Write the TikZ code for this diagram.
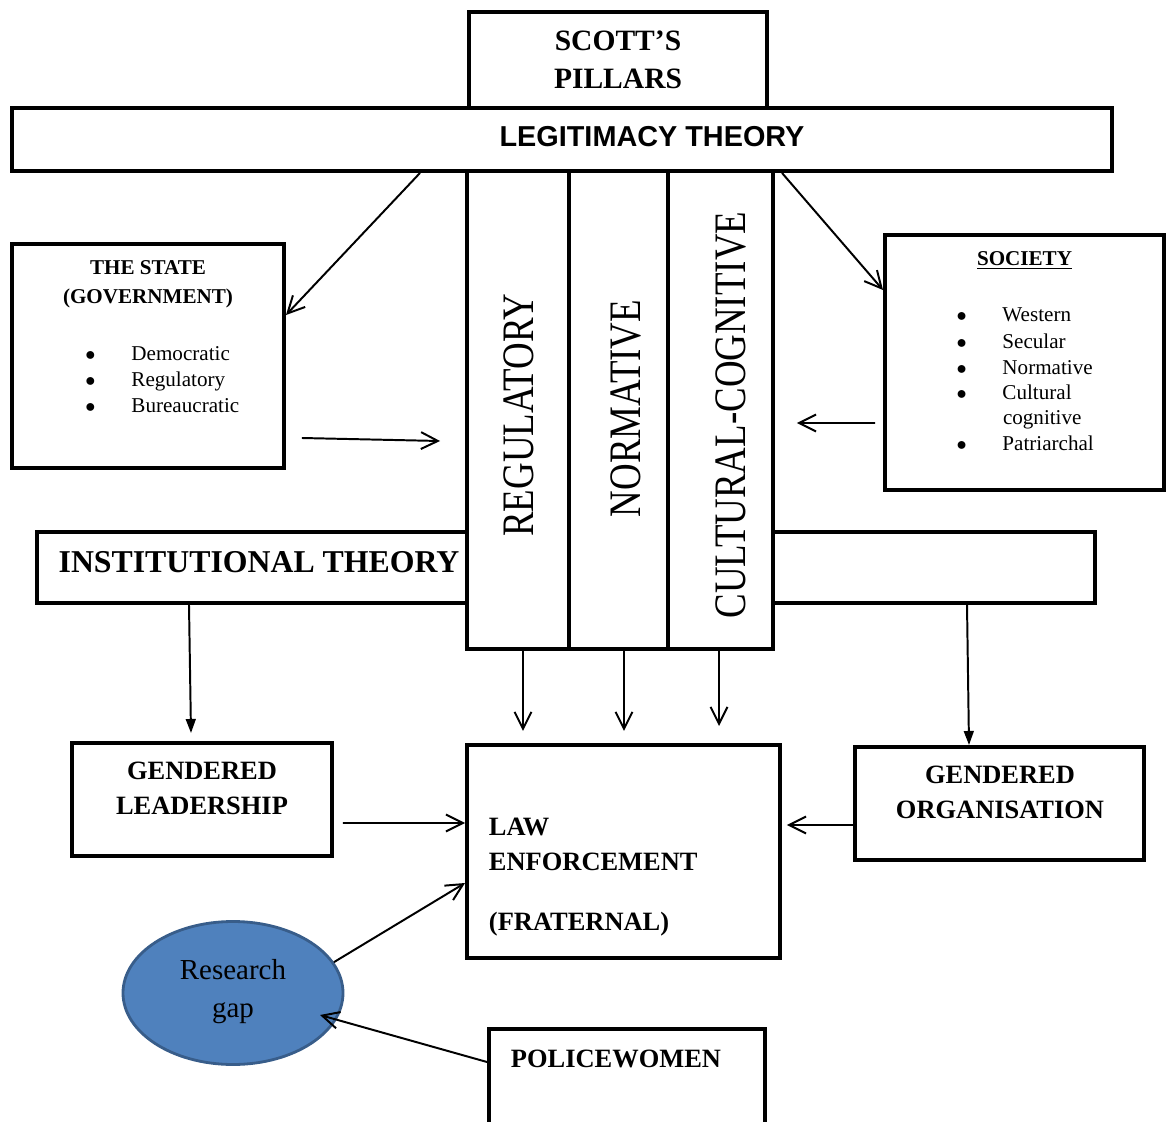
\documentclass[tikz,border=0pt]{standalone}
\usepackage{fontspec}
\setmainfont{Liberation Serif}
\newfontfamily\legitfont{Liberation Sans}
\usepackage{graphicx}
\usetikzlibrary{arrows.meta,shapes.geometric}

\definecolor{gapfill}{HTML}{4F81BD}
\definecolor{gapline}{HTML}{385D8A}

\newlength\pxu
\setlength\pxu{0.025cm}
\newcommand\blt{\hbox to 32.7pt{$\bullet$\hfil}}

\begin{document}
\begin{tikzpicture}[x=0.025cm, y=-0.025cm, line width=1.4pt,
    box/.style = {draw, line width=2.8pt, fill=white, inner sep=0},
    txt/.style = {inner sep=0, align=center, font=\bfseries\fontsize{18.8}{24.9}\selectfont},
    item/.style = {inner sep=0, anchor=base west, font=\fontsize{15}{18}\selectfont},
    pill/.style = {inner sep=0, rotate=90, anchor=base, font=\fontsize{32}{36}\selectfont},
    arr/.style = {-{Straight Barb[length=12pt,width=12pt]}},
    farr/.style = {-{Triangle[length=10pt,width=7pt]}}]
  \useasboundingbox (0,0) rectangle (1168,1122);
  \clip (0,0) rectangle (1168,1122);

  % top: pillars and legitimacy theory
  \node[box, minimum width=298\pxu, minimum height=108\pxu] (scott) at (618,66) {};
  \node[box, minimum width=1100\pxu, minimum height=63\pxu] (legit) at (562,139.5) {};
  \node[txt, font=\bfseries\fontsize{21}{27}\selectfont] (scotttxt) at (618,60) {SCOTT’S\\PILLARS};
  \node[txt, font=\legitfont\bfseries\fontsize{20.5}{24}\selectfont] (legittxt) at (652,137) {LEGITIMACY THEORY};

  % the state
  \node[box, minimum width=272\pxu, minimum height=224\pxu] (state) at (148,356) {};
  \node[txt, font=\bfseries\fontsize{15}{20.6}\selectfont] (statetxt) at (148,284) {THE STATE\\(GOVERNMENT)};
  \foreach \y/\t [count=\i] in {360/Democratic, 386/Regulatory, 412/Bureaucratic}
    \node[item] (st\i) at (84.5,\y) {\blt\t};

  % society
  \node[box, minimum width=279\pxu, minimum height=255\pxu] (society) at (1024.5,362.5) {};
  \node[txt, anchor=base, font=\bfseries\fontsize{15}{18}\selectfont] (soctxt) at (1024.5,266) {\underline{SOCIETY}};
  \foreach \y/\t [count=\i] in {322/Western, 348/Secular, 374/Normative, 399/Cultural, 450/Patriarchal}
    \node[item] (so\i) at (955.5,\y) {\blt\t};
  \node[item] (so6) at (1002,424) {cognitive};

  % institutional theory behind the three pillars
  \node[box, minimum width=1058\pxu, minimum height=71\pxu] (inst) at (566,567.5) {};
  \node[txt, font=\bfseries\fontsize{22.6}{26}\selectfont] (insttxt) at (259,562.5) {INSTITUTIONAL THEORY};
  \node[box, minimum width=102\pxu, minimum height=478\pxu] (reg) at (518,410) {};
  \node[box, minimum width=99\pxu, minimum height=478\pxu] (norm) at (618.5,410) {};
  \node[box, minimum width=105\pxu, minimum height=478\pxu] (cult) at (720.5,410) {};
  \node[pill] (regtxt) at (533,415) {\scalebox{0.82}[1]{REGULATORY}};
  \node[pill] (normtxt) at (640,408.5) {\scalebox{0.82}[1]{NORMATIVE}};
  \node[pill] (culttxt) at (745,415) {\scalebox{0.82}[1]{CULTURAL-COGNITIVE}};

  % bottom row
  \node[box, minimum width=260\pxu, minimum height=113\pxu] (gl) at (202,799.5) {};
  \node[txt] (gltxt) at (202,788.5) {GENDERED\\LEADERSHIP};
  \node[box, minimum width=313\pxu, minimum height=213\pxu] (law) at (623.5,851.5) {};
  \node[txt, align=left, anchor=west] (lawtxt) at (488,877) {LAW\\ENFORCEMENT\\[17.8pt](FRATERNAL)};
  \node[box, minimum width=289\pxu, minimum height=113\pxu] (go) at (999.5,803.5) {};
  \node[txt] (gotxt) at (1000,792.5) {GENDERED\\ORGANISATION};
  \node[ellipse, draw=gapline, fill=gapfill, line width=2pt, minimum width=220\pxu, minimum height=143\pxu, inner sep=0] (gap) at (233,993) {};
  \node[inner sep=0, align=center, font=\fontsize{20.6}{27}\selectfont] (gaptxt) at (233,991.5) {Research\\gap};
  \node[box, minimum width=276\pxu, minimum height=122\pxu] (police) at (627,1090) {};
  \node[txt, anchor=base west] (policetxt) at (510,1067) {POLICEWOMEN};

  % connectors
  \draw[arr] ([xshift=-142\pxu]legit.south) -- ([yshift=-73\pxu]state.north east);
  \draw[arr] ([xshift=220\pxu]legit.south) -- ([yshift=-57\pxu]society.north west);
  \draw[arr] ([xshift=16\pxu,yshift=-82\pxu]state.east) -- ([xshift=-25\pxu,yshift=-31\pxu]reg.west);
  \draw[arr] ([xshift=-8\pxu,yshift=-60.5\pxu]society.west) -- ([xshift=22\pxu,yshift=-13\pxu]cult.east);
  \draw[arr] ([xshift=5\pxu]reg.south) -- ++(0,80);
  \draw[arr] ([xshift=5.5\pxu]norm.south) -- ++(0,80);
  \draw[arr] ([xshift=-1.5\pxu]cult.south) -- ++(0,75);
  \draw[farr] ([xshift=-13\pxu]gl.north |- inst.south) -- ([xshift=-11\pxu,yshift=8\pxu]gl.north);
  \draw[farr] ([xshift=-32.5\pxu]go.north |- inst.south) -- ([xshift=-30.5\pxu]go.north);
  \draw[arr] ([xshift=9\pxu,yshift=-23.5\pxu]gl.east) -- ([yshift=28.5\pxu]law.west);
  \draw[arr] ([yshift=-21.5\pxu]go.west) -- ([xshift=5\pxu,yshift=26.5\pxu]law.east);
  \draw[arr] (gap.17) -- ([yshift=-31.5\pxu]law.west);
  \draw[arr] ([yshift=28\pxu]police.west) -- ([xshift=87\pxu,yshift=-22\pxu]gap.center);
\end{tikzpicture}
\end{document}
